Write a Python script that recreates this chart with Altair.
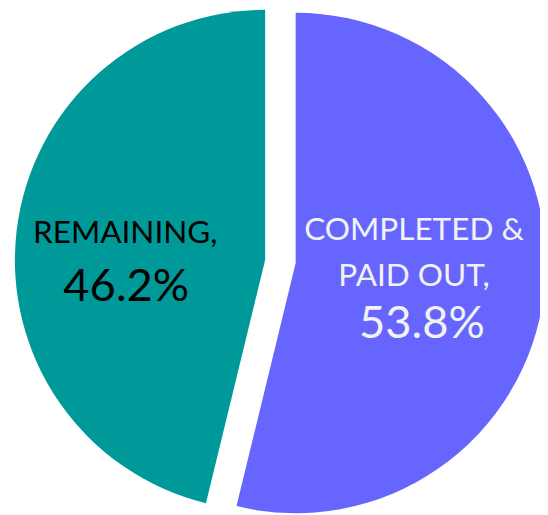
import altair as alt
import pandas as pd

# ---- data ----
categories = ["COMPLETED & PAID OUT", "REMAINING"]
shares = [53.8, 46.2]
name_labels = ["COMPLETED &\nPAID OUT,", "REMAINING,"]
pct_labels = ["53.8%", "46.2%"]
slice_order = [0, 1]
colors = ["#6666FF", "#009999"]
text_colors = ["#F2F2F2", "#000000"]

# ---- layout (exploded slice centres, label offsets) ----
centers = [(292, 255), (261, 252)]
outer_r = 254
label_r = [121, 143]
name_dy = [-38, 0]
pct_dx = [8, 1]
pct_dy = [62, 59]

df = pd.DataFrame({
    "category": categories,
    "share": shares,
    "name": name_labels,
    "pct": pct_labels,
    "order": slice_order,
})

base = (
    alt.Chart(df)
    .transform_window(end="sum(share)", sort=[alt.SortField("order")], frame=[None, 0])
    .transform_calculate(start="datum.end - datum.share", mid="datum.end - datum.share / 2")
)

theta_scale = alt.Scale(domain=[0, 100])

layers = []
for i, cat in enumerate(categories):
    cx, cy = centers[i]
    sub = base.transform_filter(alt.datum.category == cat)
    arc = sub.mark_arc(outerRadius=outer_r, innerRadius=0, color=colors[i]).encode(
        x=alt.value(cx), y=alt.value(cy),
        theta=alt.Theta("start:Q", scale=theta_scale),
        theta2="end:Q",
    )
    layers.append(arc)
for i, cat in enumerate(categories):
    cx, cy = centers[i]
    sub = base.transform_filter(alt.datum.category == cat)
    name = sub.mark_text(
        radius=label_r[i], font="Lato", fontSize=32, baseline="alphabetic",
        align="center", lineBreak="\n", lineHeight=47, dy=name_dy[i], color=text_colors[i],
    ).encode(
        x=alt.value(cx), y=alt.value(cy),
        theta=alt.Theta("mid:Q", scale=theta_scale),
        text="name:N",
    )
    pct = sub.mark_text(
        radius=label_r[i], font="Lato", fontSize=46, baseline="alphabetic",
        align="center", dx=pct_dx[i], dy=pct_dy[i], color=text_colors[i],
    ).encode(
        x=alt.value(cx), y=alt.value(cy),
        theta=alt.Theta("mid:Q", scale=theta_scale),
        text="pct:N",
    )
    layers += [name, pct]

chart = (
    alt.layer(*layers)
    .properties(width=540, height=507, autosize=alt.AutoSizeParams(type="none"), padding=0)
    .configure_view(stroke=None)
)

chart.save("out.html", embed_options={"renderer": "svg", "actions": False})
